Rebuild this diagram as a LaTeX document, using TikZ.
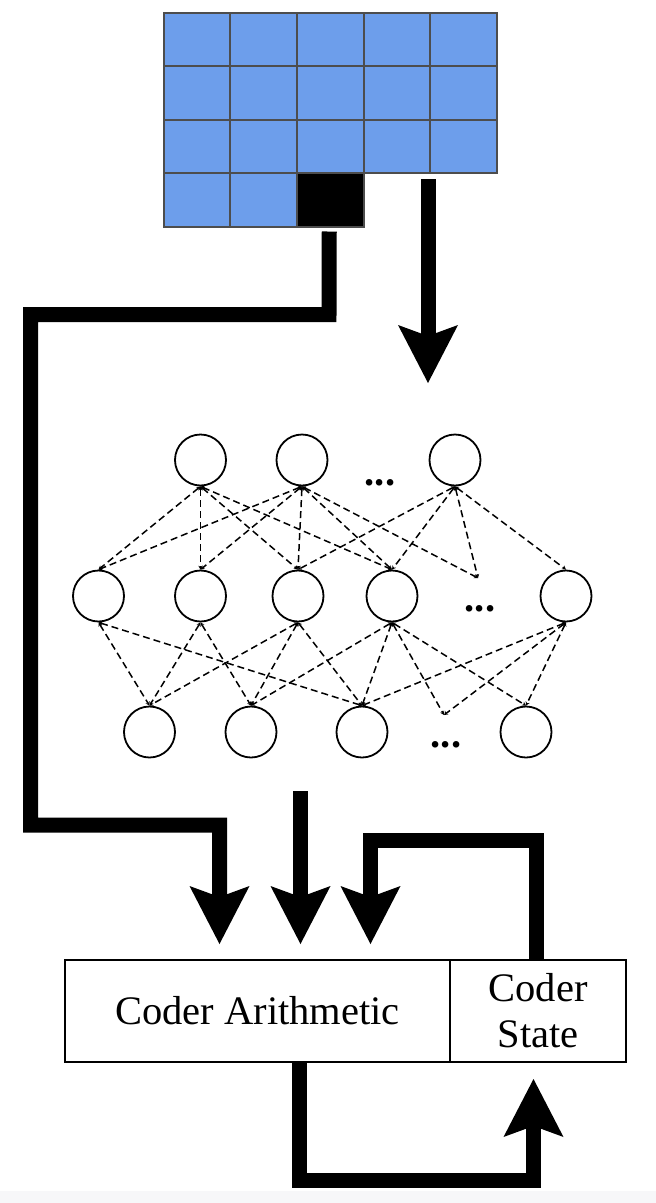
\documentclass[tikz,border=0pt]{standalone}
\usepackage{fontspec}
\setmainfont{Liberation Serif}
\usetikzlibrary{arrows.meta,calc}
\definecolor{cellblue}{RGB}{109,158,235}
\definecolor{cellline}{RGB}{77,77,77}
\definecolor{bandgray}{RGB}{247,247,249}
\begin{document}
\begin{tikzpicture}[x=1pt,y=-1pt,
  cell/.style={draw=cellline, line width=2pt, fill=cellblue, minimum width=66.7pt, minimum height=53.5pt, inner sep=0pt, outer sep=0pt},
  blackcell/.style={cell, fill=black},
  neuron/.style={circle, draw, line width=1.8pt, minimum size=51pt, inner sep=0pt},
  link/.style={line width=1.5pt, dash pattern=on 7pt off 4pt, {Stealth[length=4pt,width=4.5pt,line width=0pt]}-{Stealth[length=4pt,width=4.5pt,line width=0pt]}},
  flow/.style={line width=15pt, line join=miter, line cap=butt, -{Stealth[length=58pt,width=60pt,inset=11pt,line width=0pt]}},
  coderbox/.style={draw, line width=1.5pt, inner sep=0pt, outer sep=0pt, minimum height=102pt, align=center, font=\fontsize{40.5}{46}\selectfont},
  dots/.style={font=\fontsize{40.5}{46}\selectfont\bfseries, inner sep=0pt}
]
\useasboundingbox (0,0) rectangle (656,1203);
\fill[bandgray] (0,1191) rectangle (656,1203);

% grid
\foreach \r in {1,2,3}{
  \foreach \c in {1,...,5}{
    \node[cell] (g\r\c) at ({163.5+66.7*(\c-0.5)},{12.5+53.5*(\r-0.5)}) {};
  }
}
\node[cell] (g41) at ({163.5+66.7*0.5},{12.5+53.5*3.5}) {};
\node[cell] (g42) at ({163.5+66.7*1.5},{12.5+53.5*3.5}) {};
\node[blackcell] (g43) at ({163.5+66.7*2.5},{12.5+53.5*3.5}) {};

% network
\node[neuron] (t1) at (200.5,460) {};
\node[neuron] (t2) at (302,460) {};
\node[neuron] (t3) at (455,460) {};
\node[neuron] (m1) at (98.5,596) {};
\node[neuron] (m2) at (200.5,596) {};
\node[neuron] (m3) at (298,596) {};
\node[neuron] (m4) at (392,596) {};
\node[neuron] (m5) at (566,596) {};
\node[neuron] (b1) at (149.5,732) {};
\node[neuron] (b2) at (251,732) {};
\node[neuron] (b3) at (362,732) {};
\node[neuron] (b4) at (526,732) {};
\node[dots] (d1) at (380,483) {...};
\node[dots] (d2) at (480,609) {...};
\node[dots] (d3) at (446,745) {...};
\coordinate (e1) at (478,578);
\coordinate (e2) at (444,715);

\foreach \a/\b in {t1/m1,t1/m2,t1/m3,t1/m4,t2/m1,t2/m2,t2/m3,t2/m4,t3/m3,t3/m4,t3/m5,
                   m1/b1,m1/b3,m2/b1,m2/b2,m3/b1,m3/b2,m3/b3,m4/b2,m4/b3,m4/b4,m5/b3,m5/b4}
  \draw[link] (\a.south) -- (\b.north);
\draw[link] (t2.south) -- (e1);
\draw[link] (t3.south) -- (e1);
\draw[link] (m4.south) -- (e2);
\draw[link] (m5.south) -- (e2);

% coder boxes
\node[coderbox, minimum width=385pt] (arith) at (257.5,1011) {Coder Arithmetic};
\node[coderbox, minimum width=176pt] (state) at (538,1011) {Coder\\State};

% thick flows
\coordinate (gridout) at (428,179);
\coordinate (netin) at (428,383);
\draw[flow] (gridout) -- (netin);

\coordinate (blkout) at ($(g43.south)+(-1,5)$);
\coordinate (inA) at (219.5,944);
\draw[flow] (blkout) -- (329,314.5) -- (30.5,314.5) -- (30.5,825) -- (219.5,825) -- (inA);

\coordinate (netout) at (300.5,791);
\coordinate (inB) at (300.5,944);
\draw[flow] (netout) -- (inB);

\coordinate (stateup) at ($(state.north)+(-1.5,0)$);
\coordinate (inC) at (370.5,944);
\draw[flow] (stateup) -- (536.5,840.5) -- (370.5,840.5) -- (inC);

\coordinate (arithout) at ($(arith.south)+(42,0)$);
\coordinate (stin) at (533.5,1079);
\draw[flow] (arithout) -- (299.5,1180.5) -- (533.5,1180.5) -- (stin);
\end{tikzpicture}
\end{document}
